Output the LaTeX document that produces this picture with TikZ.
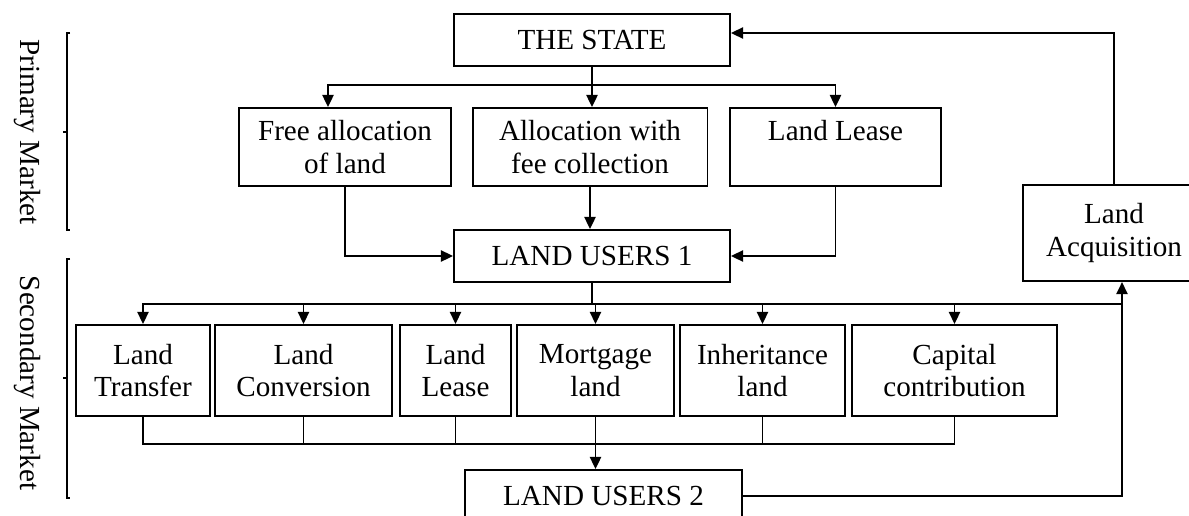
\documentclass[tikz,border=0pt]{standalone}
\usepackage{fontspec}
\setmainfont{Liberation Serif}
\usetikzlibrary{arrows.meta, positioning, calc}

\begin{document}
\begin{tikzpicture}[
        x=0.412pt, y=-0.412pt,
        line width=0.8pt,
        font=\fontsize{12}{13.5}\selectfont,
        % boxes of the chart
        box/.style={draw, align=center, inner sep=0pt},
        toprow/.style={box, minimum height=32.1pt},
        secrow/.style={box, minimum height=37.5pt},
        users/.style={box, minimum width=113.7pt, minimum height=21.4pt},
        arr/.style={-{Triangle[length=5pt,width=4.6pt]}},
        brace/.style={line width=0.6pt}
    ]
    \useasboundingbox (0,0) rectangle (1189,515);

    % market brackets on the left
    \draw[brace] (70,33) -- (67,33) -- (67,230) -- (70,230) (67,132) -- (63,132);
    \draw[brace] (70,259) -- (67,259) -- (67,498) -- (70,498) (67,378) -- (63,378);
    \node[rotate=-90] (primary) at (27,132) {Primary Market};
    \node[rotate=-90] (secondary) at (27,383) {Secondary Market};

    % primary market
    \node[users] (state) at (592,40) {THE STATE};
    \node[toprow, minimum width=87.3pt] (free) at (345,147) {Free allocation\\of land};
    \node[toprow, minimum width=96.8pt] (fee) at (590,147) {Allocation with\\fee collection};
    \node[toprow, minimum width=86.9pt] (lease1) at (835.5,147) {Land Lease\\\vphantom{fee collection}};
    \node[users] (lu1) at (592,256) {LAND USERS 1};
    \node[box, minimum width=75pt, minimum height=39.6pt] (acq) at (1114,233) {Land\\Acquisition};

    % secondary market
    \node[secrow, minimum width=55.2pt] (transfer) at (143,370.5) {Land\\Transfer};
    \node[secrow, minimum width=72.9pt] (conversion) at (303.5,370.5) {Land\\Conversion};
    \node[secrow, minimum width=45.7pt] (lease2) at (455.5,370.5) {Land\\Lease};
    \node[secrow, minimum width=64.7pt] (mortgage) at (595.5,370.5) {Mortgage\\land};
    \node[secrow, minimum width=68pt] (inherit) at (762.5,370.5) {Inheritance\\land};
    \node[secrow, minimum width=84.5pt] (capital) at (954.5,370.5) {Capital\\contribution};
    \node[users, minimum width=114.1pt] (lu2) at (603.5,496) {LAND USERS 2};

    % from the state down to the first users
    \coordinate (split1) at ($(state.south)+(0,18)$);
    \draw[arr] (state.south) -- (state.south |- fee.north);
    \draw[arr] (split1) -| ($(free.north)+(-17,0)$);
    \draw[arr] (split1) -| (lease1.north);
    \draw[arr] (free.south) |- (lu1.west);
    \draw[arr] (fee.south) -- (fee.south |- lu1.north);
    \draw[arr] (lease1.south) |- (lu1.east);

    % first users to the transactions
    \coordinate (split2) at ($(lu1.south)+(0,21)$);
    \coordinate (rise) at ($(acq.south)+(8,0)$);
    \draw (lu1.south) -- (split2);
    \foreach \n in {transfer, conversion, lease2, mortgage, inherit, capital}
        \draw[arr] (split2) -| (\n.north);
    \draw (split2) -- (split2 -| rise);

    % transactions to the second users
    \coordinate (join) at ($(mortgage.south)+(0,27)$);
    \draw (transfer.south) |- (join) -| (capital.south);
    \foreach \n in {conversion, lease2, inherit}
        \draw (\n.south) -- (\n.south |- join);
    \draw[arr] (mortgage.south) -- (mortgage.south |- lu2.north);

    % back to the state
    \draw[arr] (lu2.east) -| (rise);
    \draw[arr] (acq.north) |- ($(state.east)+(0,-7)$);
\end{tikzpicture}
\end{document}
